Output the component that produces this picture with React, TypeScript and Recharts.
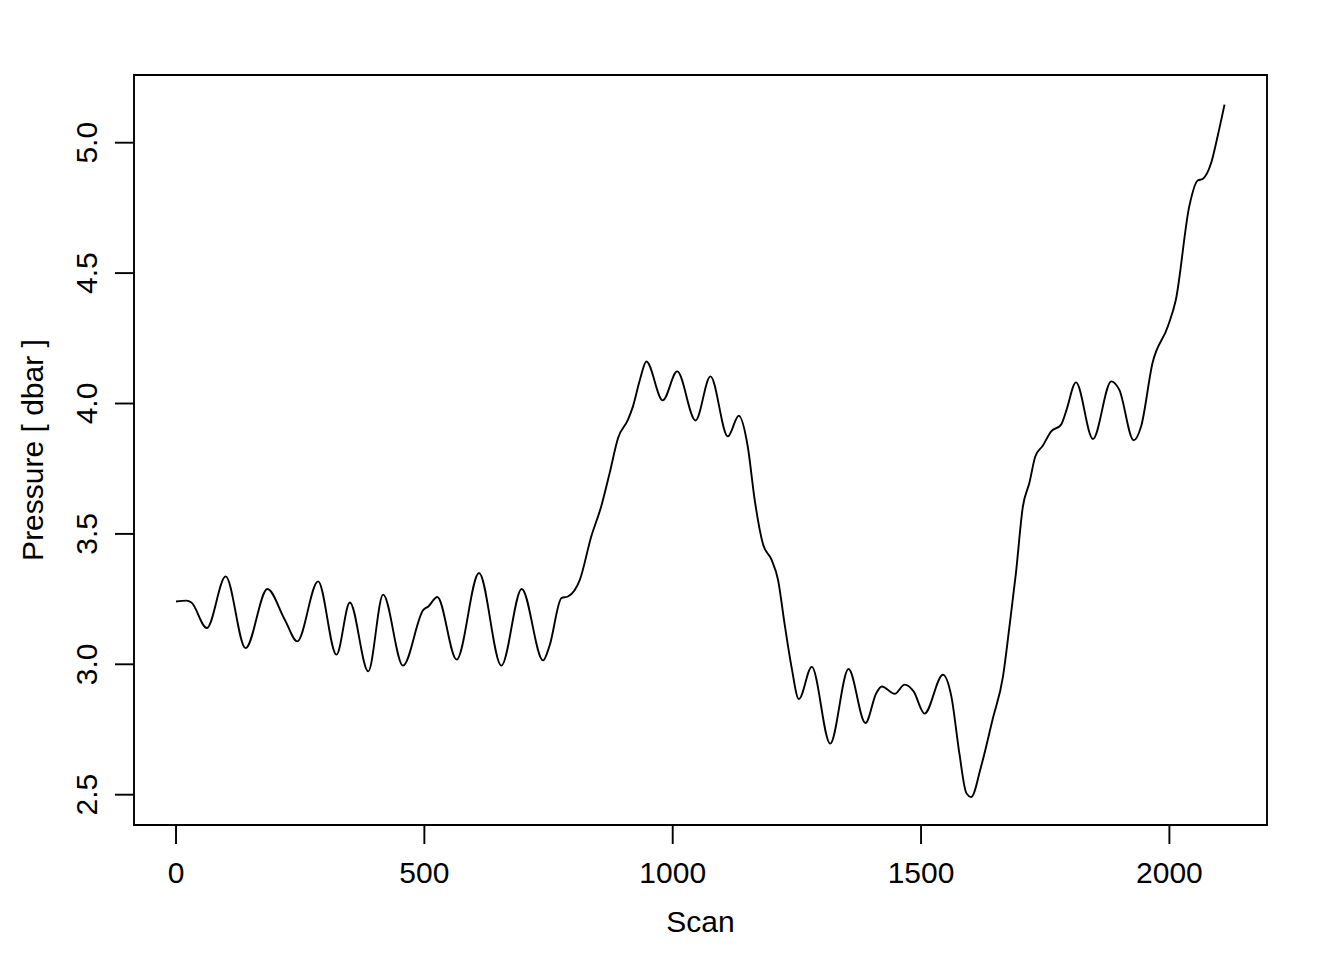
import React from "react";
import { LineChart, Line, XAxis, YAxis, ReferenceArea, Label } from "recharts";

const scans = [0, 21, 31, 62, 100, 140, 184, 219, 244, 286, 323, 350, 387, 417, 457, 498, 508, 526, 565, 610, 655, 696, 739, 752, 776, 789, 813, 836, 856, 873, 890, 910, 920, 934, 947, 980, 1009, 1046, 1076, 1111, 1133, 1151, 1165, 1182, 1199, 1212, 1225, 1239, 1254, 1280, 1317, 1354, 1388, 1410, 1421, 1447, 1467, 1485, 1507, 1544, 1561, 1577, 1591, 1601, 1621, 1644, 1665, 1678, 1691, 1705, 1718, 1730, 1745, 1762, 1782, 1792, 1812, 1846, 1883, 1899, 1928, 1943, 1966, 1997, 2013, 2040, 2057, 2067, 2084, 2097, 2111];

const pressures = [3.241, 3.244, 3.237, 3.139, 3.337, 3.062, 3.289, 3.171, 3.088, 3.318, 3.037, 3.237, 2.973, 3.267, 2.995, 3.209, 3.222, 3.258, 3.018, 3.35, 2.995, 3.289, 3.015, 3.071, 3.254, 3.26, 3.324, 3.49, 3.605, 3.733, 3.868, 3.938, 3.989, 4.091, 4.161, 4.012, 4.123, 3.935, 4.104, 3.874, 3.953, 3.836, 3.631, 3.459, 3.401, 3.324, 3.158, 2.992, 2.867, 2.99, 2.696, 2.982, 2.775, 2.89, 2.915, 2.887, 2.922, 2.896, 2.811, 2.96, 2.877, 2.66, 2.507, 2.491, 2.609, 2.788, 2.954, 3.145, 3.35, 3.605, 3.695, 3.797, 3.838, 3.893, 3.919, 3.97, 4.081, 3.864, 4.085, 4.053, 3.859, 3.912, 4.155, 4.296, 4.398, 4.756, 4.855, 4.861, 4.922, 5.024, 5.146];

const xTicks = [0, 500, 1000, 1500, 2000];
const yTicks = [2.5, 3.0, 3.5, 4.0, 4.5, 5.0];
const xDomain: [number, number] = [-84.6, 2196.5];
const yDomain: [number, number] = [2.3838, 5.2596];

const data = scans.map((s, i) => ({ scan: s, pressure: pressures[i] }));

const FONT = "'Liberation Sans', Arial, Helvetica, sans-serif";
const FS = 30;

const XTick = (props: any) => {
  const { x, y, payload } = props;
  return (
    <text x={x} y={y} textAnchor="middle" fontSize={FS} fontFamily={FONT} fill="#000">
      {String(payload.value)}
    </text>
  );
};

const YTick = (props: any) => {
  const { x, y, payload } = props;
  return (
    <text
      x={x}
      y={y}
      transform={`rotate(-90 ${x} ${y})`}
      textAnchor="middle"
      fontSize={FS}
      fontFamily={FONT}
      fill="#000"
    >
      {Number(payload.value).toFixed(1)}
    </text>
  );
};

const XTitle = (props: any) => {
  const vb = props.viewBox || { x: 134, y: 825, width: 1133, height: 135 };
  const cx = vb.x + vb.width / 2;
  const cy = vb.y + 107;
  return (
    <text x={cx} y={cy} textAnchor="middle" fontSize={FS} fontFamily={FONT} fill="#000">
      Scan
    </text>
  );
};

const YTitle = (props: any) => {
  const vb = props.viewBox || { x: 0, y: 75, width: 134, height: 750 };
  const cx = vb.x + 43;
  const cy = vb.y + vb.height / 2;
  return (
    <text
      x={cx}
      y={cy}
      transform={`rotate(-90 ${cx} ${cy})`}
      textAnchor="middle"
      fontSize={FS}
      fontFamily={FONT}
      fill="#000"
    >
      Pressure [ dbar ]
    </text>
  );
};

export default function App() {
  return (
    <div style={{ position: "absolute", left: 0, top: 0, width: 1344, height: 960, background: "#fff" }}>
      <LineChart
        width={1344}
        height={960}
        data={data}
        margin={{ top: 75, right: 77, bottom: 0, left: 0 }}
      >
        <XAxis
          dataKey="scan"
          type="number"
          domain={xDomain}
          ticks={xTicks}
          allowDataOverflow
          height={135}
          axisLine={false}
          tickLine={{ stroke: "#000", strokeWidth: 1.9 }}
          tickSize={19}
          tickMargin={39}
          tick={<XTick />}
          interval={0}
        >
          <Label content={<XTitle />} />
        </XAxis>
        <YAxis
          type="number"
          domain={yDomain}
          ticks={yTicks}
          allowDataOverflow
          width={134}
          axisLine={false}
          tickLine={{ stroke: "#000", strokeWidth: 1.9 }}
          tickSize={19}
          tickMargin={18}
          tick={<YTick />}
          interval={0}
        >
          <Label content={<YTitle />} />
        </YAxis>
        <ReferenceArea
          x1={xDomain[0]}
          x2={xDomain[1]}
          y1={yDomain[0]}
          y2={yDomain[1]}
          fill="none"
          fillOpacity={0}
          stroke="#000"
          strokeWidth={1.9}
          ifOverflow="visible"
        />
        <Line
          dataKey="pressure"
          type="monotone"
          dot={false}
          stroke="#000"
          strokeWidth={1.9}
          isAnimationActive={false}
        />
      </LineChart>
    </div>
  );
}
